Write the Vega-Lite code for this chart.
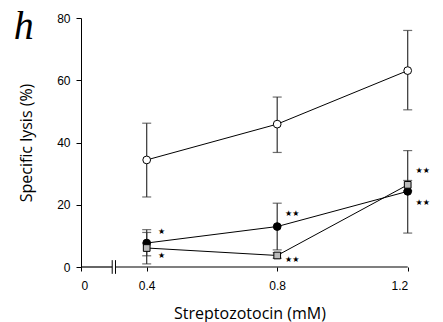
{
  "$schema": "https://vega.github.io/schema/vega-lite/v6.json",
  "autosize": {"type": "none"},
  "width": 327,
  "height": 249,
  "padding": {"left": 81, "top": 18, "right": 35, "bottom": 55},
  "background": "white",
  "title": {"text": "h", "orient": "left", "angle": 0, "anchor": "end", "frame": "group", "align": "left", "font": "Liberation Serif", "fontStyle": "italic", "fontSize": 40, "fontWeight": "normal", "color": "black", "offset": 6, "dx": 21, "dy": 21, "baseline": "alphabetic"},
  "config": {"view": {"stroke": null}, "axis": {"grid": false, "labelFont": "Liberation Sans", "labelFontSize": 12, "labelColor": "black", "tickColor": "black", "domainColor": "black", "titleColor": "black", "titleFontWeight": "normal"}},
  "datasets": {
    "pts": [
      {"series": "open", "dose": 0.4, "lysis": 34.4, "lo": 22.5, "hi": 46.2},
      {"series": "open", "dose": 0.8, "lysis": 45.9, "lo": 36.8, "hi": 54.6},
      {"series": "open", "dose": 1.2, "lysis": 63.1, "lo": 50.5, "hi": 76.0},
      {"series": "filled", "dose": 0.4, "lysis": 7.7, "lo": 3.6, "hi": 12.0},
      {"series": "filled", "dose": 0.8, "lysis": 13.0, "lo": 5.5, "hi": 20.5},
      {"series": "filled", "dose": 1.2, "lysis": 24.3, "lo": 10.9, "hi": 37.4},
      {"series": "square", "dose": 0.4, "lysis": 6.1, "lo": 1.0, "hi": 11.1},
      {"series": "square", "dose": 0.8, "lysis": 3.7, "lo": 2.8, "hi": 4.6},
      {"series": "square", "dose": 1.2, "lysis": 26.4, "lo": 24.5, "hi": 27.8}
    ],
    "stars": [
      {"dose": 0.4, "y": 11.2, "label": "★"},
      {"dose": 0.4, "y": 3.6, "label": "★"},
      {"dose": 0.8, "y": 17.1, "label": "★★"},
      {"dose": 0.8, "y": 2.1, "label": "★★"},
      {"dose": 1.2, "y": 30.9, "label": "★★"},
      {"dose": 1.2, "y": 20.7, "label": "★★"}
    ],
    "axisline": [
      {"x": 0, "x2": 0.19, "y": 0},
      {"x": 0.21, "x2": 1.2, "y": 0}
    ],
    "breaks": [
      {"x": 0.19, "lo": -2.2, "hi": 2.2},
      {"x": 0.21, "lo": -2.2, "hi": 2.2}
    ]
  },
  "encoding": {
    "x": {"field": "dose", "type": "quantitative",
      "scale": {"domain": [0, 0.4, 1.2], "range": [0, 65.7, 326.7], "nice": false, "zero": false},
      "axis": {"values": [0, 0.4, 0.8, 1.2], "format": "~g", "domain": false, "tickSize": 4, "labelPadding": 9, "title": "Streptozotocin (mM)", "titleFont": "Open Sans", "titleFontSize": 16, "titlePadding": 14, "titleX": 168.5}},
    "y": {"field": "lysis", "type": "quantitative",
      "scale": {"domain": [0, 80], "nice": false},
      "axis": {"values": [0, 20, 40, 60, 80], "tickSize": 5, "labelPadding": 6, "title": "Specific lysis (%)", "titleFont": "Open Sans", "titleFontSize": 16, "titlePadding": 22}}
  },
  "layer": [
    {"data": {"name": "axisline"}, "mark": {"type": "rule", "color": "black", "strokeWidth": 1.2},
      "encoding": {"x": {"field": "x", "type": "quantitative"}, "x2": {"field": "x2"}, "y": {"field": "y", "type": "quantitative"}}},
    {"data": {"name": "breaks"}, "mark": {"type": "rule", "color": "black", "strokeWidth": 1},
      "encoding": {"x": {"field": "x", "type": "quantitative"}, "y": {"field": "lo", "type": "quantitative"}, "y2": {"field": "hi"}}},
    {"data": {"name": "pts"}, "mark": {"type": "rule", "color": "#333", "strokeWidth": 1.2},
      "encoding": {"y": {"field": "lo", "type": "quantitative"}, "y2": {"field": "hi"}}},
    {"data": {"name": "pts"}, "mark": {"type": "tick", "color": "#333", "orient": "horizontal", "size": 9, "thickness": 1.2},
      "encoding": {"y": {"field": "lo", "type": "quantitative"}}},
    {"data": {"name": "pts"}, "mark": {"type": "tick", "color": "#333", "orient": "horizontal", "size": 9, "thickness": 1.2},
      "encoding": {"y": {"field": "hi", "type": "quantitative"}}},
    {"data": {"name": "pts"}, "mark": {"type": "line", "color": "black", "strokeWidth": 1},
      "encoding": {"detail": {"field": "series"}}},
    {"data": {"name": "pts"}, "transform": [{"filter": "datum.series == 'open'"}],
      "mark": {"type": "point", "shape": "circle", "size": 60, "filled": true, "fill": "white", "stroke": "black", "strokeWidth": 1, "opacity": 1}},
    {"data": {"name": "pts"}, "transform": [{"filter": "datum.series == 'filled'"}],
      "mark": {"type": "point", "shape": "circle", "size": 60, "filled": true, "fill": "black", "stroke": "black", "strokeWidth": 1, "opacity": 1}},
    {"data": {"name": "pts"}, "transform": [{"filter": "datum.series == 'square'"}],
      "mark": {"type": "point", "shape": "square", "size": 45, "filled": true, "fill": "#bbbbbb", "stroke": "black", "strokeWidth": 1, "opacity": 1}},
    {"data": {"name": "stars"}, "mark": {"type": "text", "font": "DejaVu Sans", "fontSize": 8, "dx": 15, "color": "black", "align": "center", "baseline": "middle"},
      "encoding": {"x": {"field": "dose", "type": "quantitative"}, "y": {"field": "y", "type": "quantitative"}, "text": {"field": "label"}}}
  ]
}
